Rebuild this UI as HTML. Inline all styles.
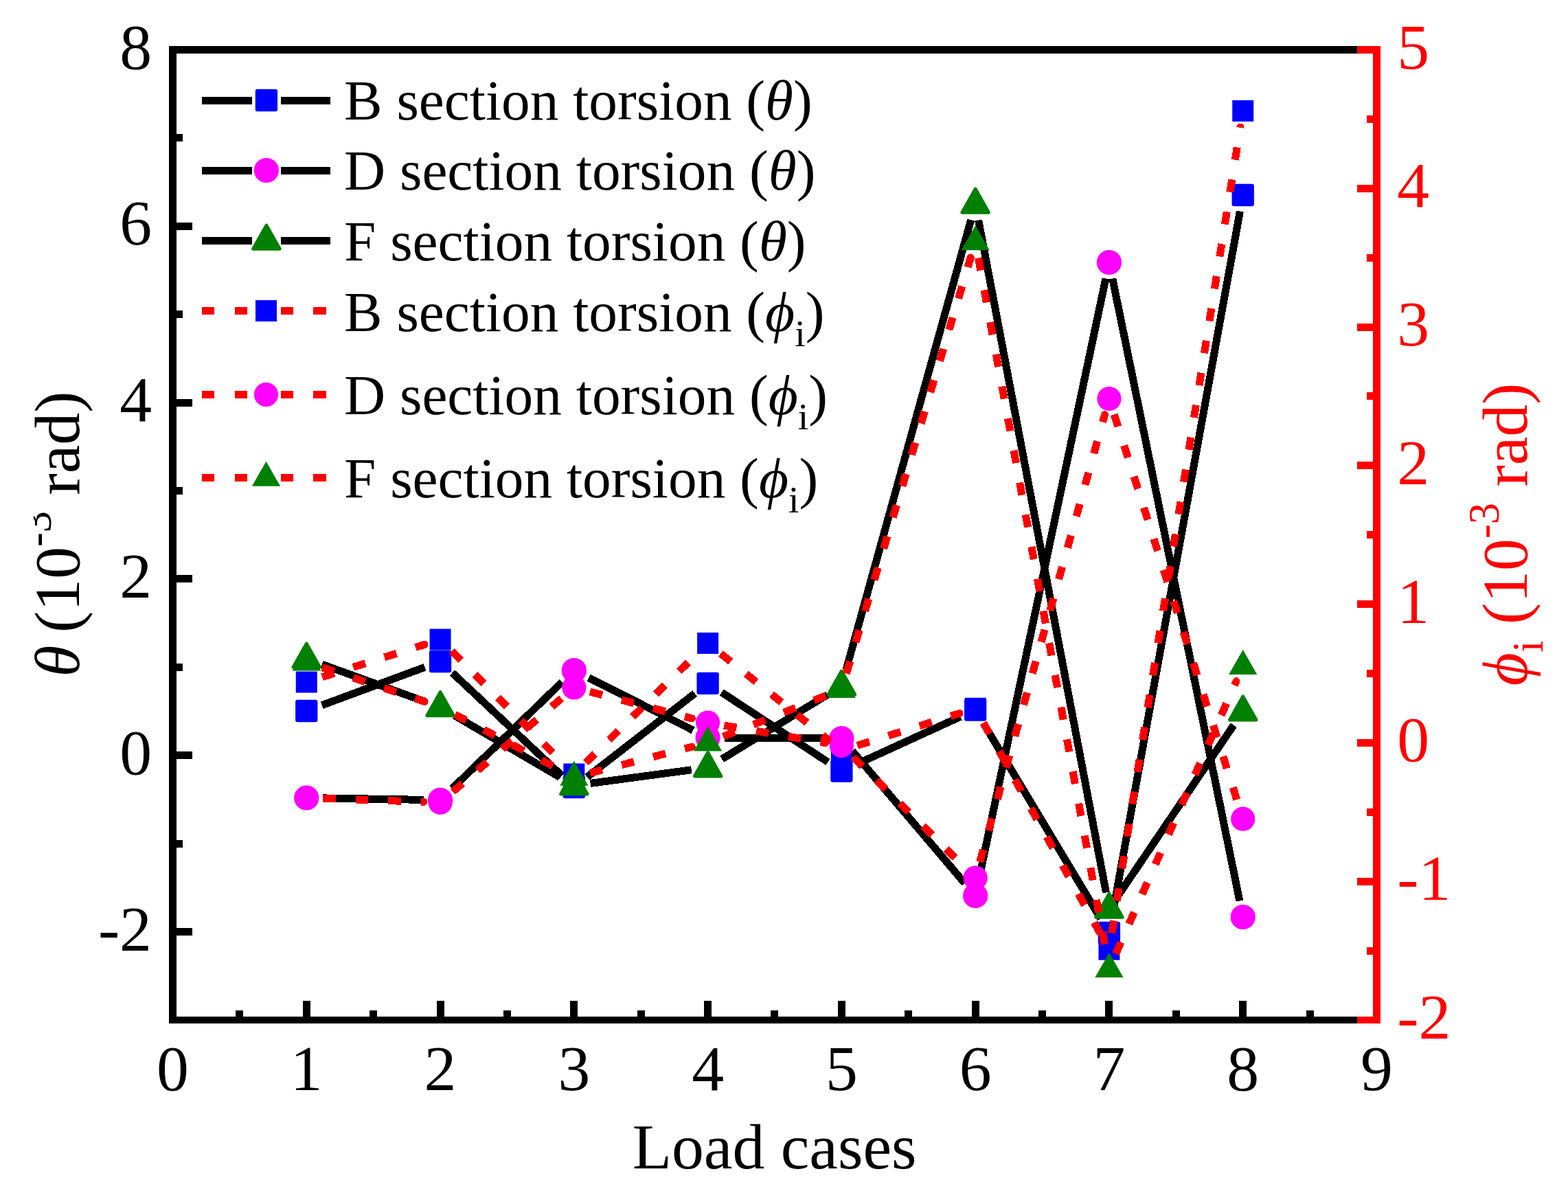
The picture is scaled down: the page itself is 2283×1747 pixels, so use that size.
<!DOCTYPE html>
<html lang="en"><head><meta charset="utf-8"><title>Section torsion vs load cases</title>
<style>html,body{margin:0;padding:0;background:#fff;width:2283px;height:1747px}svg{display:block}text{font-family:"Liberation Serif","DejaVu Serif",serif;white-space:pre}.i{font-style:italic}</style></head><body>
<svg width="2283" height="1747" viewBox="0 0 2283 1747" role="img" aria-label="Section torsion versus load cases">
<rect x="0" y="0" width="2283" height="1747" fill="#ffffff"/>
<g shape-rendering="crispEdges">
<g>
<line x1="468.79" y1="1026.68" x2="618.54" y2="971.32" stroke="#000000" stroke-width="11"/>
<line x1="658.55" y1="979.43" x2="818.34" y2="1129.57" stroke="#000000" stroke-width="11"/>
<line x1="854.79" y1="1131.28" x2="1011.65" y2="1009.52" stroke="#000000" stroke-width="11"/>
<line x1="1050.68" y1="1007.96" x2="1205.32" y2="1109.34" stroke="#000000" stroke-width="11"/>
<line x1="1247.22" y1="1112.53" x2="1398.34" y2="1043.47" stroke="#000000" stroke-width="11"/>
<line x1="1432.52" y1="1054.08" x2="1602.59" y2="1337.42" stroke="#000000" stroke-width="11"/>
<line x1="1619.23" y1="1334.39" x2="1805.44" y2="307.61" stroke="#000000" stroke-width="11"/>
<rect x="430.13" y="1018.85" width="32.3" height="32.3" rx="3" fill="#0000ff" shape-rendering="geometricPrecision"/>
<rect x="624.91" y="946.85" width="32.3" height="32.3" rx="3" fill="#0000ff" shape-rendering="geometricPrecision"/>
<rect x="819.68" y="1129.85" width="32.3" height="32.3" rx="3" fill="#0000ff" shape-rendering="geometricPrecision"/>
<rect x="1014.46" y="978.65" width="32.3" height="32.3" rx="3" fill="#0000ff" shape-rendering="geometricPrecision"/>
<rect x="1209.24" y="1106.35" width="32.3" height="32.3" rx="3" fill="#0000ff" shape-rendering="geometricPrecision"/>
<rect x="1404.02" y="1017.35" width="32.3" height="32.3" rx="3" fill="#0000ff" shape-rendering="geometricPrecision"/>
<rect x="1598.79" y="1341.85" width="32.3" height="32.3" rx="3" fill="#0000ff" shape-rendering="geometricPrecision"/>
<rect x="1793.57" y="267.85" width="32.3" height="32.3" rx="3" fill="#0000ff" shape-rendering="geometricPrecision"/>
</g>
<g>
<line x1="470.27" y1="1161.91" x2="617.06" y2="1164.39" stroke="#000000" stroke-width="11"/>
<line x1="658.29" y1="1148.1" x2="818.6" y2="992.7" stroke="#000000" stroke-width="11"/>
<line x1="857.27" y1="986.79" x2="1009.17" y2="1063.21" stroke="#000000" stroke-width="11"/>
<line x1="1054.61" y1="1074.12" x2="1201.39" y2="1074.88" stroke="#000000" stroke-width="11"/>
<line x1="1240.94" y1="1093.28" x2="1404.62" y2="1285.72" stroke="#000000" stroke-width="11"/>
<line x1="1425.13" y1="1280.52" x2="1609.98" y2="405.48" stroke="#000000" stroke-width="11"/>
<line x1="1619.75" y1="405.51" x2="1804.92" y2="1311.49" stroke="#000000" stroke-width="11"/>
<circle cx="446.28" cy="1161.5" r="18.1" fill="#ff00ff" shape-rendering="geometricPrecision"/>
<circle cx="641.06" cy="1164.8" r="18.1" fill="#ff00ff" shape-rendering="geometricPrecision"/>
<circle cx="835.83" cy="976" r="18.1" fill="#ff00ff" shape-rendering="geometricPrecision"/>
<circle cx="1030.61" cy="1074" r="18.1" fill="#ff00ff" shape-rendering="geometricPrecision"/>
<circle cx="1225.39" cy="1075" r="18.1" fill="#ff00ff" shape-rendering="geometricPrecision"/>
<circle cx="1420.17" cy="1304" r="18.1" fill="#ff00ff" shape-rendering="geometricPrecision"/>
<circle cx="1614.94" cy="382" r="18.1" fill="#ff00ff" shape-rendering="geometricPrecision"/>
<circle cx="1809.72" cy="1335" r="18.1" fill="#ff00ff" shape-rendering="geometricPrecision"/>
</g>
<g>
<line x1="468.85" y1="967.17" x2="618.49" y2="1021.33" stroke="#000000" stroke-width="11"/>
<line x1="661.76" y1="1041.63" x2="815.12" y2="1131.47" stroke="#000000" stroke-width="11"/>
<line x1="859.62" y1="1140.42" x2="1006.82" y2="1120.78" stroke="#000000" stroke-width="11"/>
<line x1="1051.1" y1="1105.1" x2="1204.9" y2="1011.3" stroke="#000000" stroke-width="11"/>
<line x1="1231.81" y1="975.67" x2="1413.75" y2="320.13" stroke="#000000" stroke-width="11"/>
<line x1="1424.64" y1="320.58" x2="1610.47" y2="1299.42" stroke="#000000" stroke-width="11"/>
<line x1="1628.42" y1="1303.14" x2="1796.25" y2="1055.66" stroke="#000000" stroke-width="11"/>
<polygon points="446.28,937.2 427.08,971.3 465.48,971.3" fill="#008000" stroke="#008000" stroke-width="5" stroke-linejoin="round" shape-rendering="geometricPrecision"/>
<polygon points="641.06,1007.7 621.86,1041.8 660.26,1041.8" fill="#008000" stroke="#008000" stroke-width="5" stroke-linejoin="round" shape-rendering="geometricPrecision"/>
<polygon points="835.83,1121.8 816.63,1155.9 855.03,1155.9" fill="#008000" stroke="#008000" stroke-width="5" stroke-linejoin="round" shape-rendering="geometricPrecision"/>
<polygon points="1030.61,1095.8 1011.41,1129.9 1049.81,1129.9" fill="#008000" stroke="#008000" stroke-width="5" stroke-linejoin="round" shape-rendering="geometricPrecision"/>
<polygon points="1225.39,977 1206.19,1011.1 1244.59,1011.1" fill="#008000" stroke="#008000" stroke-width="5" stroke-linejoin="round" shape-rendering="geometricPrecision"/>
<polygon points="1420.17,275.2 1400.97,309.3 1439.37,309.3" fill="#008000" stroke="#008000" stroke-width="5" stroke-linejoin="round" shape-rendering="geometricPrecision"/>
<polygon points="1614.94,1301.2 1595.74,1335.3 1634.14,1335.3" fill="#008000" stroke="#008000" stroke-width="5" stroke-linejoin="round" shape-rendering="geometricPrecision"/>
<polygon points="1809.72,1014 1790.52,1048.1 1828.92,1048.1" fill="#008000" stroke="#008000" stroke-width="5" stroke-linejoin="round" shape-rendering="geometricPrecision"/>
</g>
<g>
<line x1="469.15" y1="985.72" x2="618.19" y2="938.28" stroke="#ff0000" stroke-width="11" stroke-dasharray="18.5 29"/>
<path d="M619.85 943.52A5.5 5.5 0 0 0 616.52 933.04Z" fill="#ff0000"/>
<line x1="657.97" y1="948.02" x2="818.92" y2="1109.98" stroke="#ff0000" stroke-width="11" stroke-dasharray="18.5 29"/>
<line x1="852.99" y1="1110.21" x2="1013.46" y2="953.19" stroke="#ff0000" stroke-width="11" stroke-dasharray="18.5 29"/>
<line x1="1049.34" y1="951.41" x2="1206.66" y2="1077.49" stroke="#ff0000" stroke-width="11" stroke-dasharray="18.5 29"/>
<path d="M1203.22 1081.78A5.5 5.5 0 0 0 1210.1 1073.2Z" fill="#ff0000"/>
<line x1="1248.29" y1="1085.31" x2="1397.27" y2="1038.49" stroke="#ff0000" stroke-width="11" stroke-dasharray="18.5 29"/>
<path d="M1398.92 1043.74A5.5 5.5 0 0 0 1395.62 1033.25Z" fill="#ff0000"/>
<line x1="1431.81" y1="1052.28" x2="1603.3" y2="1361.22" stroke="#ff0000" stroke-width="11" stroke-dasharray="18.5 29"/>
<line x1="1618.73" y1="1358.5" x2="1805.94" y2="185.1" stroke="#ff0000" stroke-width="11" stroke-dasharray="18.5 29"/>
<path d="M1811.37 185.97A5.5 5.5 0 0 0 1800.51 184.23Z" fill="#ff0000"/>
<rect x="430.78" y="977.5" width="31" height="31" fill="#0000ff" shape-rendering="geometricPrecision"/>
<rect x="625.56" y="915.5" width="31" height="31" fill="#0000ff" shape-rendering="geometricPrecision"/>
<rect x="820.33" y="1111.5" width="31" height="31" fill="#0000ff" shape-rendering="geometricPrecision"/>
<rect x="1015.11" y="920.9" width="31" height="31" fill="#0000ff" shape-rendering="geometricPrecision"/>
<rect x="1209.89" y="1077" width="31" height="31" fill="#0000ff" shape-rendering="geometricPrecision"/>
<rect x="1404.67" y="1015.8" width="31" height="31" fill="#0000ff" shape-rendering="geometricPrecision"/>
<rect x="1599.44" y="1366.7" width="31" height="31" fill="#0000ff" shape-rendering="geometricPrecision"/>
<rect x="1794.22" y="145.9" width="31" height="31" fill="#0000ff" shape-rendering="geometricPrecision"/>
</g>
<g>
<line x1="470.26" y1="1162.33" x2="617.07" y2="1167.37" stroke="#ff0000" stroke-width="11" stroke-dasharray="18.5 29"/>
<path d="M616.88 1172.87A5.5 5.5 0 0 0 617.26 1161.88Z" fill="#ff0000"/>
<line x1="659.27" y1="1152.57" x2="817.62" y2="1016.63" stroke="#ff0000" stroke-width="11" stroke-dasharray="18.5 29"/>
<line x1="859.05" y1="1007.08" x2="1007.39" y2="1045.92" stroke="#ff0000" stroke-width="11" stroke-dasharray="18.5 29"/>
<path d="M1006 1051.24A5.5 5.5 0 0 0 1008.79 1040.6Z" fill="#ff0000"/>
<line x1="1054.26" y1="1056.08" x2="1201.74" y2="1081.52" stroke="#ff0000" stroke-width="11" stroke-dasharray="18.5 29"/>
<path d="M1200.8 1086.94A5.5 5.5 0 0 0 1202.67 1076.1Z" fill="#ff0000"/>
<line x1="1242.46" y1="1102.47" x2="1403.09" y2="1261.13" stroke="#ff0000" stroke-width="11" stroke-dasharray="18.5 29"/>
<line x1="1426.62" y1="1254.88" x2="1608.49" y2="603.62" stroke="#ff0000" stroke-width="11" stroke-dasharray="18.5 29"/>
<path d="M1613.79 605.09A5.5 5.5 0 0 0 1603.19 602.14Z" fill="#ff0000"/>
<line x1="1622.23" y1="603.37" x2="1802.44" y2="1169.33" stroke="#ff0000" stroke-width="11" stroke-dasharray="18.5 29"/>
<circle cx="446.28" cy="1161.5" r="17.6" fill="#ff00ff" shape-rendering="geometricPrecision"/>
<circle cx="641.06" cy="1168.2" r="17.6" fill="#ff00ff" shape-rendering="geometricPrecision"/>
<circle cx="835.83" cy="1001" r="17.6" fill="#ff00ff" shape-rendering="geometricPrecision"/>
<circle cx="1030.61" cy="1052" r="17.6" fill="#ff00ff" shape-rendering="geometricPrecision"/>
<circle cx="1225.39" cy="1085.6" r="17.6" fill="#ff00ff" shape-rendering="geometricPrecision"/>
<circle cx="1420.17" cy="1278" r="17.6" fill="#ff00ff" shape-rendering="geometricPrecision"/>
<circle cx="1614.94" cy="580.5" r="17.6" fill="#ff00ff" shape-rendering="geometricPrecision"/>
<circle cx="1809.72" cy="1192.2" r="17.6" fill="#ff00ff" shape-rendering="geometricPrecision"/>
</g>
<g>
<line x1="469.05" y1="971.78" x2="618.28" y2="1021.42" stroke="#ff0000" stroke-width="11" stroke-dasharray="18.5 29"/>
<path d="M616.55 1026.64A5.5 5.5 0 0 0 620.02 1016.21Z" fill="#ff0000"/>
<line x1="662.3" y1="1040.17" x2="814.59" y2="1120.23" stroke="#ff0000" stroke-width="11" stroke-dasharray="18.5 29"/>
<line x1="859.08" y1="1125.42" x2="1007.37" y2="1087.28" stroke="#ff0000" stroke-width="11" stroke-dasharray="18.5 29"/>
<path d="M1008.74 1092.61A5.5 5.5 0 0 0 1006 1081.95Z" fill="#ff0000"/>
<line x1="1052.91" y1="1072.42" x2="1203.09" y2="1012.58" stroke="#ff0000" stroke-width="11" stroke-dasharray="18.5 29"/>
<line x1="1232.26" y1="980.71" x2="1413.29" y2="374.99" stroke="#ff0000" stroke-width="11" stroke-dasharray="18.5 29"/>
<path d="M1418.56 376.57A5.5 5.5 0 0 0 1408.02 373.42Z" fill="#ff0000"/>
<line x1="1424.51" y1="375.6" x2="1610.6" y2="1387" stroke="#ff0000" stroke-width="11" stroke-dasharray="18.5 29"/>
<line x1="1624.64" y1="1388.65" x2="1800.02" y2="991.75" stroke="#ff0000" stroke-width="11" stroke-dasharray="18.5 29"/>
<path d="M1805.05 993.98A5.5 5.5 0 0 0 1794.99 989.53Z" fill="#ff0000"/>
<polygon points="446.28,940.5 425.68,976.5 466.88,976.5" fill="#008000" shape-rendering="geometricPrecision"/>
<polygon points="641.06,1005.3 620.46,1041.3 661.66,1041.3" fill="#008000" shape-rendering="geometricPrecision"/>
<polygon points="835.83,1107.7 815.23,1143.7 856.43,1143.7" fill="#008000" shape-rendering="geometricPrecision"/>
<polygon points="1030.61,1057.6 1010.01,1093.6 1051.21,1093.6" fill="#008000" shape-rendering="geometricPrecision"/>
<polygon points="1225.39,980 1204.79,1016 1245.99,1016" fill="#008000" shape-rendering="geometricPrecision"/>
<polygon points="1420.17,328.3 1399.57,364.3 1440.77,364.3" fill="#008000" shape-rendering="geometricPrecision"/>
<polygon points="1614.94,1386.9 1594.34,1422.9 1635.54,1422.9" fill="#008000" shape-rendering="geometricPrecision"/>
<polygon points="1809.72,946.1 1789.12,982.1 1830.32,982.1" fill="#008000" shape-rendering="geometricPrecision"/>
</g>
</g>
<g shape-rendering="crispEdges">
<rect x="257" y="1351" width="23" height="11" fill="#000000"/>
<rect x="257" y="1223" width="9" height="11" fill="#000000"/>
<rect x="257" y="1094" width="23" height="11" fill="#000000"/>
<rect x="257" y="966" width="9" height="11" fill="#000000"/>
<rect x="257" y="837" width="23" height="11" fill="#000000"/>
<rect x="257" y="709" width="9" height="11" fill="#000000"/>
<rect x="257" y="581" width="23" height="11" fill="#000000"/>
<rect x="257" y="452" width="9" height="11" fill="#000000"/>
<rect x="257" y="324" width="23" height="11" fill="#000000"/>
<rect x="257" y="195" width="9" height="11" fill="#000000"/>
<rect x="246" y="1457" width="11" height="23" fill="#000000"/>
<rect x="343" y="1471" width="11" height="9" fill="#000000"/>
<rect x="441" y="1457" width="11" height="23" fill="#000000"/>
<rect x="538" y="1471" width="11" height="9" fill="#000000"/>
<rect x="636" y="1457" width="11" height="23" fill="#000000"/>
<rect x="733" y="1471" width="11" height="9" fill="#000000"/>
<rect x="830" y="1457" width="11" height="23" fill="#000000"/>
<rect x="928" y="1471" width="11" height="9" fill="#000000"/>
<rect x="1025" y="1457" width="11" height="23" fill="#000000"/>
<rect x="1122" y="1471" width="11" height="9" fill="#000000"/>
<rect x="1220" y="1457" width="11" height="23" fill="#000000"/>
<rect x="1317" y="1471" width="11" height="9" fill="#000000"/>
<rect x="1415" y="1457" width="11" height="23" fill="#000000"/>
<rect x="1512" y="1471" width="11" height="9" fill="#000000"/>
<rect x="1609" y="1457" width="11" height="23" fill="#000000"/>
<rect x="1707" y="1471" width="11" height="9" fill="#000000"/>
<rect x="1804" y="1457" width="11" height="23" fill="#000000"/>
<rect x="1902" y="1471" width="11" height="9" fill="#000000"/>
<rect x="1999" y="1457" width="11" height="23" fill="#000000"/>
<rect x="246" y="67" width="11" height="1423" fill="#000000"/>
<rect x="246" y="67" width="1730" height="11" fill="#000000"/>
<rect x="246" y="1480" width="1730" height="10" fill="#000000"/>
<rect x="1976" y="1480" width="23" height="10" fill="#ff0000"/>
<rect x="1990" y="1379" width="9" height="11" fill="#ff0000"/>
<rect x="1976" y="1278" width="23" height="11" fill="#ff0000"/>
<rect x="1990" y="1177" width="9" height="11" fill="#ff0000"/>
<rect x="1976" y="1076" width="23" height="11" fill="#ff0000"/>
<rect x="1990" y="975" width="9" height="11" fill="#ff0000"/>
<rect x="1976" y="874" width="23" height="11" fill="#ff0000"/>
<rect x="1990" y="773" width="9" height="11" fill="#ff0000"/>
<rect x="1976" y="672" width="23" height="11" fill="#ff0000"/>
<rect x="1990" y="571" width="9" height="11" fill="#ff0000"/>
<rect x="1976" y="471" width="23" height="11" fill="#ff0000"/>
<rect x="1990" y="370" width="9" height="11" fill="#ff0000"/>
<rect x="1976" y="269" width="23" height="11" fill="#ff0000"/>
<rect x="1990" y="168" width="9" height="11" fill="#ff0000"/>
<rect x="1976" y="67" width="23" height="11" fill="#ff0000"/>
<rect x="1999" y="67" width="11" height="1423" fill="#ff0000"/>
</g>
<g font-size="93.75" fill="#000000" text-anchor="end">
<text x="221" y="99.5">8</text>
<text x="221" y="356.32">6</text>
<text x="221" y="613.14">4</text>
<text x="221" y="869.95">2</text>
<text x="221" y="1126.77">0</text>
<text x="221" y="1383.59">-2</text>
</g>
<g font-size="93.75" fill="#000000" text-anchor="middle">
<text x="251.5" y="1586.5">0</text>
<text x="446.28" y="1586.5">1</text>
<text x="641.06" y="1586.5">2</text>
<text x="835.83" y="1586.5">3</text>
<text x="1030.61" y="1586.5">4</text>
<text x="1225.39" y="1586.5">5</text>
<text x="1420.17" y="1586.5">6</text>
<text x="1614.94" y="1586.5">7</text>
<text x="1809.72" y="1586.5">8</text>
<text x="2004.5" y="1586.5">9</text>
</g>
<g font-size="93.75" fill="#ff0000" text-anchor="start">
<text x="2034.3" y="99.5">5</text>
<text x="2034.3" y="301.29">4</text>
<text x="2034.3" y="503.07">3</text>
<text x="2034.3" y="704.86">2</text>
<text x="2034.3" y="906.64">1</text>
<text x="2034.3" y="1108.43">0</text>
<text x="2034.3" y="1310.21">-1</text>
<text x="2034.3" y="1512">-2</text>
</g>
<text x="1127.6" y="1700.8" font-size="93.75" fill="#000000" text-anchor="middle">Load cases</text>
<defs><clipPath id="lc"><rect x="49" y="0" width="200" height="1747"/></clipPath></defs>
<g clip-path="url(#lc)"><text transform="translate(114.6 777.5) rotate(-90)" font-size="93.75" fill="#000000" text-anchor="middle"><tspan class="i">θ</tspan><tspan dx="-5"> (10</tspan><tspan font-size="62.53" dy="-41">-3</tspan><tspan dy="41"> rad)</tspan></text></g>
<text transform="translate(2223 778) rotate(-90)" font-size="93.75" fill="#ff0000" text-anchor="middle"><tspan class="i">ϕ</tspan><tspan font-size="62.53" dy="23">i</tspan><tspan dy="-23"> (10</tspan><tspan font-size="62.53" dy="-41">-3</tspan><tspan dy="41"> rad)</tspan></text>
<g shape-rendering="crispEdges">
<line x1="294" y1="146.5" x2="366.9" y2="146.5" stroke="#000000" stroke-width="11"/>
<line x1="408.9" y1="146.5" x2="481" y2="146.5" stroke="#000000" stroke-width="11"/>
<rect x="371.75" y="129.85" width="32.3" height="32.3" rx="3" fill="#0000ff" shape-rendering="geometricPrecision"/>
<line x1="294" y1="248.5" x2="366.9" y2="248.5" stroke="#000000" stroke-width="11"/>
<line x1="408.9" y1="248.5" x2="481" y2="248.5" stroke="#000000" stroke-width="11"/>
<circle cx="387.9" cy="248" r="18.1" fill="#ff00ff" shape-rendering="geometricPrecision"/>
<line x1="294" y1="350.5" x2="366.9" y2="350.5" stroke="#000000" stroke-width="11"/>
<line x1="408.9" y1="350.5" x2="481" y2="350.5" stroke="#000000" stroke-width="11"/>
<polygon points="387.9,328.2 368.7,362.3 407.1,362.3" fill="#008000" stroke="#008000" stroke-width="5" stroke-linejoin="round" shape-rendering="geometricPrecision"/>
<rect x="294" y="447" width="18" height="11" fill="#ff0000"/>
<rect x="342" y="447" width="18" height="11" fill="#ff0000"/>
<rect x="409" y="447" width="18" height="11" fill="#ff0000"/>
<rect x="456" y="447" width="19" height="11" fill="#ff0000"/>
<rect x="372" y="437" width="31" height="31" fill="#0000ff" shape-rendering="geometricPrecision"/>
<rect x="294" y="569" width="18" height="11" fill="#ff0000"/>
<rect x="342" y="569" width="18" height="11" fill="#ff0000"/>
<rect x="409" y="569" width="18" height="11" fill="#ff0000"/>
<rect x="456" y="569" width="19" height="11" fill="#ff0000"/>
<circle cx="387.5" cy="574.4" r="17.6" fill="#ff00ff" shape-rendering="geometricPrecision"/>
<rect x="294" y="690" width="18" height="11" fill="#ff0000"/>
<rect x="342" y="690" width="18" height="11" fill="#ff0000"/>
<rect x="409" y="690" width="18" height="11" fill="#ff0000"/>
<rect x="456" y="690" width="19" height="11" fill="#ff0000"/>
<polygon points="387.5,671.7 366.9,707.7 408.1,707.7" fill="#008000" shape-rendering="geometricPrecision"/>
</g>
<g font-size="83.3" fill="#000000">
<text x="501" y="173.5">B section torsion (<tspan class="i">θ</tspan>)</text>
<text x="501" y="276">D section torsion (<tspan class="i">θ</tspan>)</text>
<text x="501" y="379">F section torsion (<tspan class="i">θ</tspan>)</text>
<text x="501" y="481.5">B section torsion (<tspan class="i">ϕ</tspan><tspan font-size="55.56" dy="22">i</tspan><tspan dy="-22">)</tspan></text>
<text x="501" y="602.5">D section torsion (<tspan class="i">ϕ</tspan><tspan font-size="55.56" dy="22">i</tspan><tspan dy="-22">)</tspan></text>
<text x="501" y="723.5">F section torsion (<tspan class="i">ϕ</tspan><tspan font-size="55.56" dy="22">i</tspan><tspan dy="-22">)</tspan></text>
</g>
</svg></body></html>
